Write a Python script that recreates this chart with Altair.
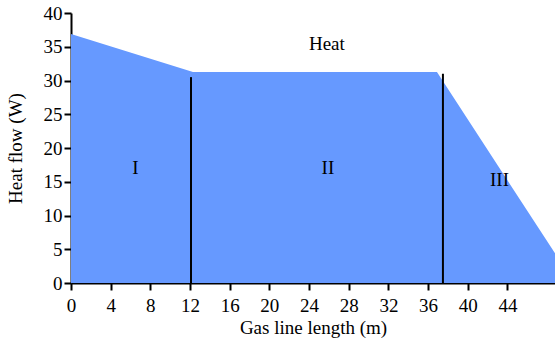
import altair as alt
import pandas as pd

# Heat curve
length_m = [0, 12.3, 36.9, 48.8]
heat_w = [36.9, 31.25, 31.25, 4.4]

# Region boundaries (vertical lines)
boundary_x = [12.1, 37.5]
boundary_top = [30.5, 31.0]

# Labels
label_text = ["I", "II", "III", "Heat"]
label_x = [6.5, 25.9, 43.2, 25.8]
label_y = [17.0, 17.0, 15.2, 35.4]

x_ticks = list(range(0, 45, 4))
y_ticks = list(range(0, 41, 5))

curve = pd.DataFrame({"x": length_m, "y": heat_w})
lines = pd.DataFrame({"x": boundary_x, "y0": [0, 0], "y1": boundary_top})
labels = pd.DataFrame({"t": label_text, "x": label_x, "y": label_y})

FONT = "Liberation Serif"
XT = "Gas line length (m)"
YT = "Heat flow (W)"
xs = alt.Scale(domain=[0, 48.8], nice=False, zero=False)
ys = alt.Scale(domain=[0, 40], nice=False)

common = dict(grid=False, labelOverlap=False, labelFlush=False,
              labelFont=FONT, titleFont=FONT, labelFontSize=19, titleFontSize=19,
              labelColor="black", titleColor="black", titleFontWeight="normal",
              domainColor="black", domainWidth=2, tickColor="black", tickWidth=2,
              tickSize=7)
x_axis = alt.Axis(values=x_ticks, labelPadding=6, titlePadding=3, **common)
y_axis = alt.Axis(values=y_ticks, labelPadding=2, titlePadding=18, **common)

area = alt.Chart(curve).mark_area(color="#6699ff", opacity=1).encode(
    x=alt.X("x:Q", scale=xs, title=XT, axis=x_axis),
    y=alt.Y("y:Q", scale=ys, title=YT, axis=y_axis),
)

rules = alt.Chart(lines).mark_rule(color="black", strokeWidth=2).encode(
    x=alt.X("x:Q", scale=xs, title=XT, axis=x_axis),
    y=alt.Y("y0:Q", scale=ys, title=YT, axis=y_axis),
    y2="y1:Q",
)

text = alt.Chart(labels).mark_text(font=FONT, fontSize=19, color="black").encode(
    x=alt.X("x:Q", scale=xs, title=XT, axis=x_axis),
    y=alt.Y("y:Q", scale=ys, title=YT, axis=y_axis),
    text="t:N",
)

chart = (area + rules + text).properties(
    width=484, height=270,
    autosize=alt.AutoSizeParams(type="none"),
    padding={"left": 71, "top": 13, "right": 0, "bottom": 60},
).configure_view(stroke=None)

chart.save("out.html", embed_options={"renderer": "svg", "actions": False})
